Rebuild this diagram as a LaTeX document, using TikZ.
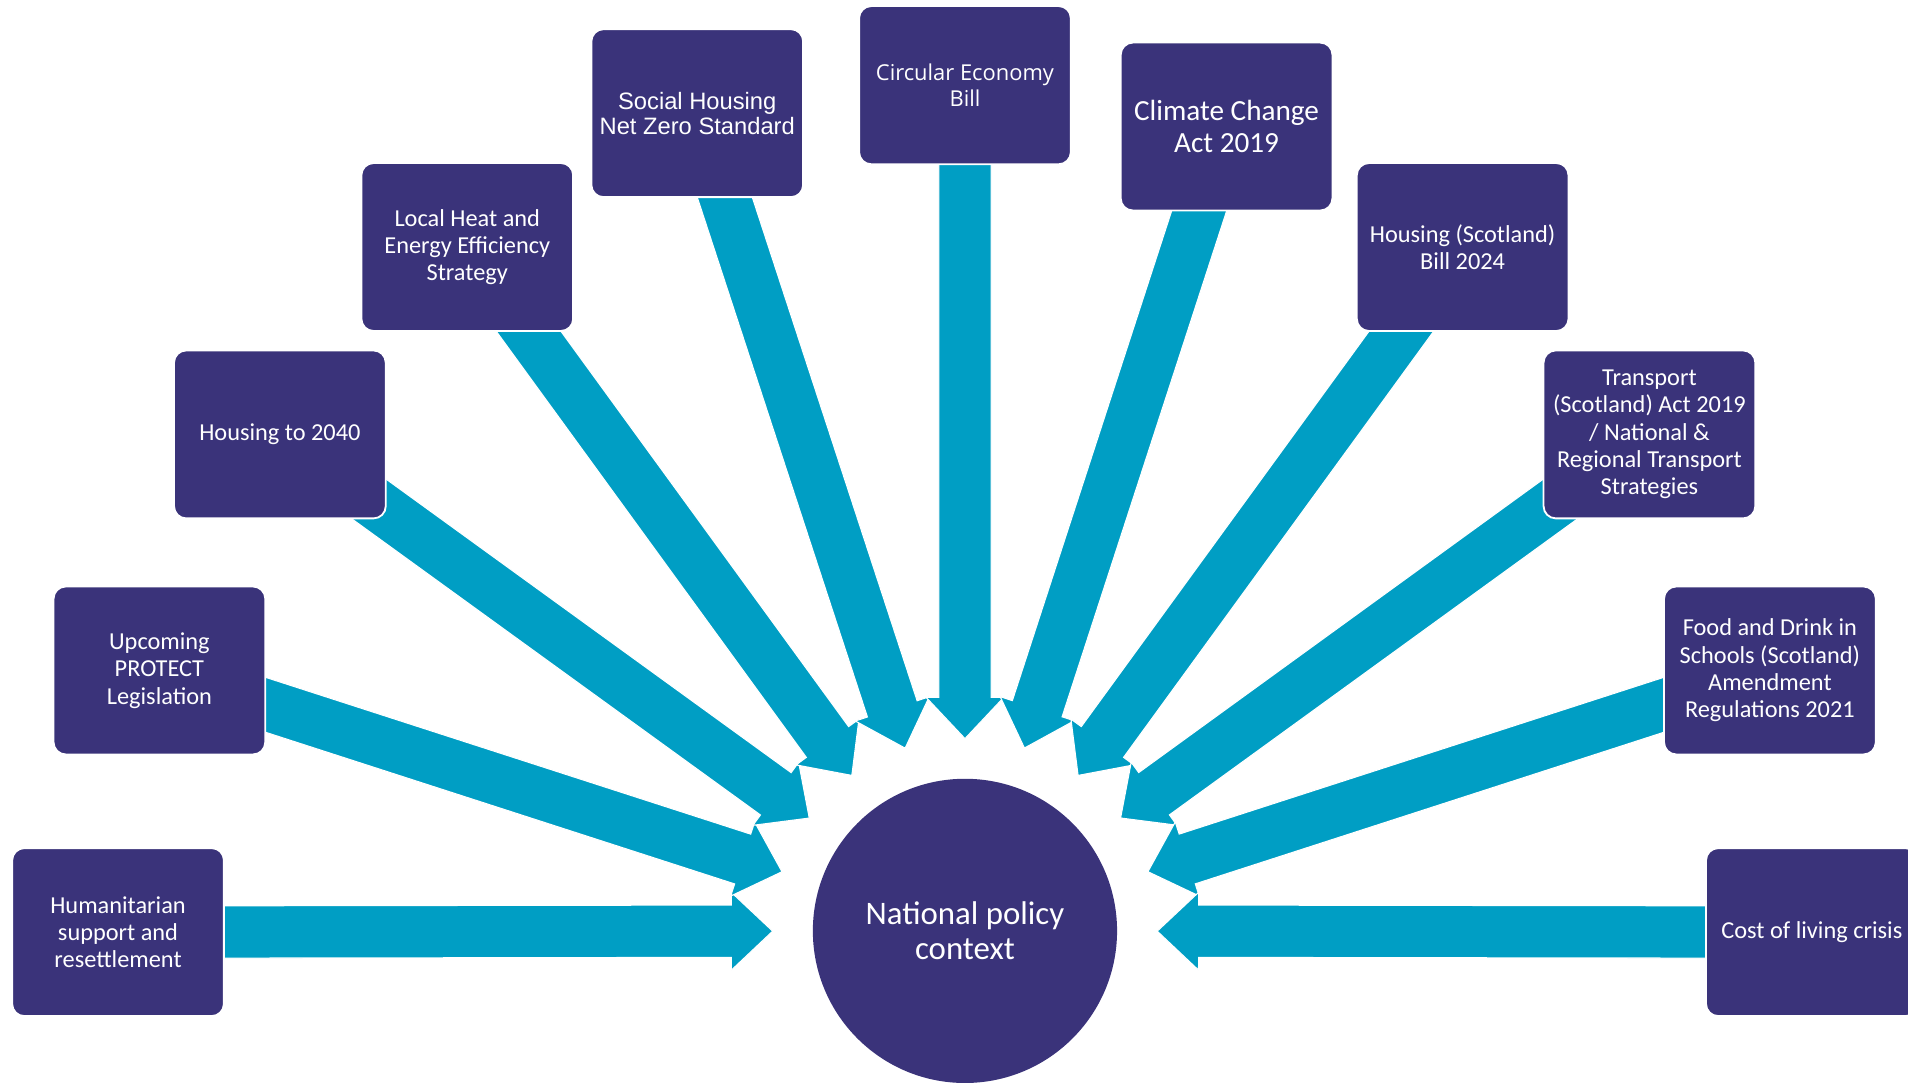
\documentclass[tikz,border=0pt]{standalone}
\usepackage{fontspec}
\setmainfont{Carlito}
\newfontfamily\arialf{Liberation Sans}
\newfontfamily\osans{Open Sans}
\usetikzlibrary{calc,backgrounds}
\definecolor{npurple}{RGB}{58,51,122}
\definecolor{ncyan}{RGB}{0,158,196}
\tikzset{
  policybox/.style={rectangle, rounded corners=10pt, fill=npurple, draw=white, line width=1.5pt,
    minimum width=174pt, minimum height=138pt, inner sep=2pt, align=center, text=white,
    font=\fontsize{20}{22.4}\selectfont},
  hub/.style={circle, fill=npurple, minimum size=250pt, inner sep=0pt, align=center, text=white,
    font=\fontsize{27}{29}\selectfont},
  fatarrow/.style={fill=ncyan, draw=white, line width=0.9pt, line join=miter}
}
\begin{document}
\begin{tikzpicture}[x=1pt, y=-1pt]
\useasboundingbox (0,0) rectangle (1568,890);
\clip (0,0) rectangle (1568,890);
\node[hub] (c) at (793,765) {National policy\\context};
\node[policybox] (b1) at (97,766) {Humanitarian\\support and\\resettlement};
\node[policybox] (b2) at (131,551) {Upcoming\\PROTECT\\Legislation};
\node[policybox] (b3) at (230,357) {Housing to 2040};
\node[policybox] (b4) at (384,203) {Local Heat and\\Energy Efficiency\\Strategy};
\node[policybox, font=\arialf\fontsize{19.5}{20.5}\selectfont] (b5) at (573,93) {Social Housing\\Net Zero Standard};
\node[policybox, minimum height=130pt, font=\osans\fontsize{18}{22}\selectfont] (b6) at (793,70) {Circular Economy\\Bill};
\node[policybox, font=\fontsize{24}{26}\selectfont] (b7) at (1008,104) {Climate Change\\Act 2019};
\node[policybox] (b8) at (1202,203) {Housing (Scotland)\\Bill 2024};
\node[policybox] (b9) at (1355.5,357) {Transport\\(Scotland) Act 2019\\/ National \&\\Regional Transport\\Strategies};
\node[policybox] (b10) at (1454.5,551) {Food and Drink in\\Schools (Scotland)\\Amendment\\Regulations 2021};
\node[policybox] (b11) at (1489,766) {Cost of living crisis};
\begin{pgfonlayer}{background}
\foreach \i in {1,...,11} {
  \coordinate (t\i) at ($(c.center)!158pt!(b\i.center)$);
  \coordinate (h\i) at ($(t\i)!34pt!(b\i.center)$);
  \filldraw[fatarrow] ($(b\i.center)!21.5pt!-90:(t\i)$) -- ($(h\i)!21.5pt!90:(b\i.center)$)
    -- ($(h\i)!32pt!90:(b\i.center)$) -- (t\i) -- ($(h\i)!32pt!-90:(b\i.center)$)
    -- ($(h\i)!21.5pt!-90:(b\i.center)$) -- ($(b\i.center)!21.5pt!90:(t\i)$) -- cycle;
}
\end{pgfonlayer}
\end{tikzpicture}
\end{document}
